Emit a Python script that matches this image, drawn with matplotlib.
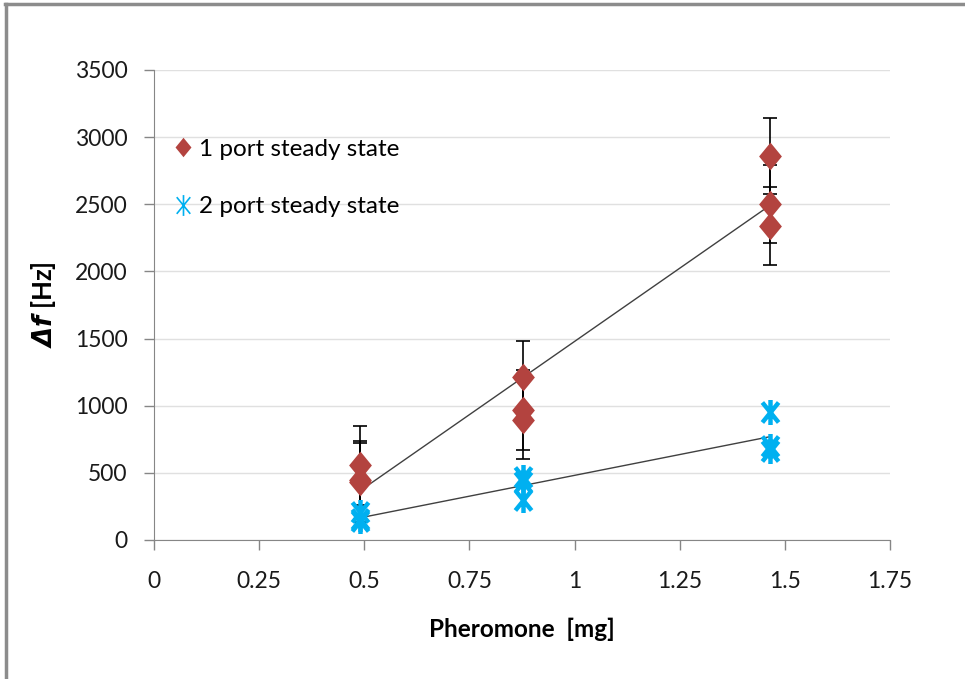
import numpy as np
import matplotlib
matplotlib.use("Agg")
import matplotlib.pyplot as plt
from matplotlib.lines import Line2D
from matplotlib.path import Path

plt.rcParams["font.family"] = ["Lato", "DejaVu Sans"]
plt.rcParams["mathtext.fontset"] = "dejavusans"

# pheromone amount [mg] for each measurement group
x_one = [0.49, 0.49, 0.49, 0.877, 0.877, 0.877, 1.465, 1.465, 1.465]
y_one = [555, 450, 430, 1214, 968, 893, 2859, 2502, 2338]
err_one = [295, 290, 295, 270, 298, 290, 283, 290, 290]

x_two = [0.49, 0.49, 0.49, 0.877, 0.877, 0.877, 1.465, 1.465, 1.465]
y_two = [205, 160, 140, 470, 430, 300, 955, 700, 660]

x_ticks = [0, 0.25, 0.5, 0.75, 1, 1.25, 1.5, 1.75]
x_tick_labels = ["0", "0.25", "0.5", "0.75", "1", "1.25", "1.5", "1.75"]
y_ticks = [0, 500, 1000, 1500, 2000, 2500, 3000, 3500]

RED = "#B3433F"
BLUE = "#00B0F0"

diamond = Path([(0, 1), (0.82, 0), (0, -1), (-0.82, 0), (0, 1)],
               [Path.MOVETO, Path.LINETO, Path.LINETO, Path.LINETO, Path.CLOSEPOLY])
# vertical stroke plus a narrow X, like the spreadsheet "star" marker
star = Path([(0, 1), (0, -1), (-0.65, 0.8), (0.65, -0.8), (-0.65, -0.8), (0.65, 0.8)],
            [Path.MOVETO, Path.LINETO, Path.MOVETO, Path.LINETO, Path.MOVETO, Path.LINETO])

fig = plt.figure(figsize=(9.65, 6.79), dpi=100)
ax = fig.add_axes([154 / 965, 1 - 540 / 679, 736 / 965, 470 / 679])

# outer chart frame (top and left edges visible)
fig.add_artist(Line2D([0.005, 1], [0.994, 0.994], transform=fig.transFigure,
                      color="#8C8C8C", lw=2.5))
fig.add_artist(Line2D([0.006, 0.006], [0, 0.994], transform=fig.transFigure,
                      color="#8C8C8C", lw=2.5))

ax.errorbar(x_one, y_one, yerr=err_one, fmt="none", ecolor="black",
            elinewidth=1.2, capsize=5, capthick=1.2, zorder=2)

# linear trend lines
for xs, ys in [(x_one, y_one), (x_two, y_two)]:
    k, b = np.polyfit(xs, ys, 1)
    xx = np.array([min(xs), max(xs)])
    ax.plot(xx, k * xx + b, color="#404040", lw=1, zorder=3)

ax.plot(x_one, y_one, linestyle="none", marker=diamond, ms=20,
        color=RED, markeredgewidth=0, zorder=4)
ax.plot(x_two, y_two, linestyle="none", marker=star, ms=18,
        markerfacecolor="none", markeredgecolor=BLUE, markeredgewidth=3.2, zorder=5)

ax.set_xlim(0, 1.75)
ax.set_ylim(0, 3500)
ax.set_xticks(x_ticks)
ax.set_xticklabels(x_tick_labels)
ax.set_yticks(y_ticks)
ax.tick_params(labelsize=16.5, color="#868686", length=7, width=1, pad=12,
               labelcolor="#1a1a1a")
ax.tick_params(axis="x", pad=15)
ax.grid(axis="y", color="#E0E0E0", lw=1)
ax.set_axisbelow(True)
for side in ["top", "right"]:
    ax.spines[side].set_visible(False)
for side in ["left", "bottom"]:
    ax.spines[side].set_color("#868686")

ax.set_xlabel("Pheromone  [mg]", fontsize=17.5, fontweight="bold", labelpad=19)
ax.set_ylabel(r"$\mathbfit{\Delta f}$ [Hz]", fontsize=18.5, fontweight="bold",
              labelpad=12)

handles = [
    Line2D([], [], linestyle="none", marker=diamond, ms=14, color=RED,
           markeredgewidth=0),
    Line2D([], [], linestyle="none", marker=star, ms=15, markerfacecolor="none",
           markeredgecolor=BLUE, markeredgewidth=1.2),
]
ax.legend(handles, ["1 port steady state", "2 port steady state"],
          loc="upper left", bbox_to_anchor=(0.0, 0.9), frameon=False,
          fontsize=17.5, handlelength=0.6, handletextpad=0.35, labelspacing=1.5)

fig.savefig("out.png", dpi=100)
